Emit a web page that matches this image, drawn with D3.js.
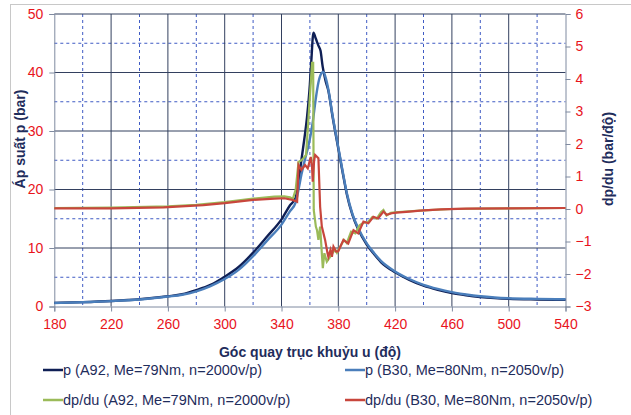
<!DOCTYPE html>
<meta charset="utf-8">
<head>
  <style>
    body { margin: 0; background: #fff; font-family: "Liberation Sans", Arial, sans-serif; }
    .tick-label { fill: #e8141c; font-size: 14px; }
    .title { fill: #1f2d5c; font-size: 14px; font-weight: bold; }
    .legend text { fill: #1f2d5c; font-size: 14.5px; }
  </style>
</head>
<body>
  <div class="chart"></div>
  <script src="https://d3js.org/d3.v7.min.js"></script>
  <script>

    // x tick labels (crank angle, deg)
    var xTicks = [180, 220, 260, 300, 340, 380, 420, 460, 500, 540];
    var yLeftTicks = [0, 10, 20, 30, 40, 50];
    var yRightTicks = [-3, -2, -1, 0, 1, 2, 3, 4, 5, 6];

    var seriesNames = [
      "p (A92, Me=79Nm, n=2000v/p)",
      "p (B30, Me=80Nm, n=2050v/p)",
      "dp/du (A92, Me=79Nm, n=2000v/p)",
      "dp/du (B30, Me=80Nm, n=2050v/p)"
    ];

    // pressure, bar  [angle, p]
    var pA92 = [[180,0.62],[200,0.75],[220,0.95],[240,1.25],[260,1.75],[270,2.1],[280,2.8],[290,3.7],
      [300,5.1],[310,6.8],[320,9.2],[330,12.0],[340,14.9],[346,17.3],[350,18.6],[352,21.5],[354,25],
      [356,28.5],[358,32.4],[360,38],[361,42],[362.5,46.8],[364,45.9],[366,44.6],[367.5,43.7],[369,41],
      [371,38.6],[373,36.9],[376,32.4],[380,27.0],[383,23.0],[386,19.2],[390,15.6],[394,13.2],[400,10.6],
      [405,9.0],[410,7.6],[420,5.85],[430,4.55],[440,3.55],[450,2.85],[460,2.3],[470,1.92],[480,1.63],
      [490,1.43],[500,1.3],[520,1.2],[540,1.15]];
    var pB30 = [[180,0.6],[200,0.72],[220,0.92],[240,1.2],[260,1.7],[270,2.0],[280,2.6],[290,3.5],
      [300,4.7],[310,6.3],[320,8.6],[330,11.3],[340,14.0],[346,16.3],[350,17.8],[352,20],[354,22.5],
      [357,25.6],[359,27.5],[362,31.5],[364,35.3],[366,38.3],[368,39.8],[369.5,40.1],[371,39.2],
      [373,37.1],[376,32.6],[380,27.2],[383,23.2],[386,19.4],[390,15.8],[394,13.4],[400,10.8],
      [405,9.2],[410,7.8],[420,6.0],[430,4.7],[440,3.7],[450,3.0],[460,2.45],[470,2.05],[480,1.75],
      [490,1.55],[500,1.42],[520,1.3],[540,1.23]];

    // pressure gradient, bar/deg  [angle, dp/du]
    var dA92 = [[180,0.03],[220,0.04],[260,0.08],[280,0.13],[300,0.21],[320,0.32],[335,0.38],[342,0.39],
      [346,0.36],[348,0.31],[350,0.6],[352,1.45],[354,1.5],[355.4,1.56],[357.3,1.66],[359,2.8],[360.5,3.8],
      [361.5,4.5],[362.3,4.5],[362.7,-0.03],[364.2,-0.54],[365,-0.65],[366,-0.95],[367.2,-0.54],
      [368.4,-1.36],[369.1,-1.82],[370.2,-1.36],[371.9,-1.62],[374.2,-1.47],[376,-1.35],[377.7,-1.26],
      [379,-1.35],[381.3,-1.16],[384,-0.95],[386,-1.05],[389,-0.7],[392,-0.75],[395,-0.5],[398,-0.42],
      [401,-0.4],[404,-0.25],[407,-0.3],[410,-0.1],[411.8,-0.03],[414,-0.2],[417,-0.12],[420,-0.1],
      [440,-0.04],[460,0],[480,0.01],[500,0.02],[540,0.03]];
    var dB30 = [[180,0.02],[220,0.02],[257,0.05],[285,0.12],[300,0.18],[320,0.28],[335,0.32],[342,0.33],
      [347.7,0.28],[349.6,0.25],[351,0.22],[352,1.35],[354,1.2],[356.6,1.35],[358.5,1.25],[360.6,1.6],
      [361.5,1.3],[362,0.84],[363,1.5],[363.7,1.66],[366,1.56],[367.2,0.07],[368.4,-0.54],[370.7,-0.95],
      [372.4,-1.36],[373,-1.47],[374.5,-1.26],[375.5,-1.47],[376.6,-1.16],[378.5,-1.31],[380,-1.3],
      [383.6,-0.95],[387,-1.06],[390.7,-0.65],[394,-0.75],[397.7,-0.39],[401.2,-0.44],[404.7,-0.24],
      [408,-0.29],[411.8,-0.08],[414,-0.18],[417.7,-0.13],[421,-0.11],[430,-0.08],[437.6,-0.05],
      [452,-0.01],[470,0.01],[500,0.02],[540,0.03]];

    var colors = ["#0f1f55", "#4a7ebb", "#9bbb59", "#c8463c"];

    var width = 631, height = 415;
    var plotL = 54.3, plotR = 565.5, plotT = 14, plotB = 306.5;

    var svg = d3.select(".chart").append("svg")
      .attr("width", width)
      .attr("height", height);

    // outer frame
    svg.append("rect")
      .attr("x", 10.5).attr("y", 4.5)
      .attr("width", 640).attr("height", 430)
      .attr("fill", "none")
      .attr("stroke", "#c8c8c8");

    var x = d3.scaleLinear().domain([180, 540]).range([plotL, plotR]);
    var yL = d3.scaleLinear().domain([0, 50]).range([plotB, plotT]);
    var yR = d3.scaleLinear().domain([-3, 6]).range([plotB, plotT]);

    // minor dashed grid
    var grid = svg.append("g");
    grid.selectAll(".vminor")
      .data(d3.range(200, 540, 40))
      .enter().append("line")
      .attr("x1", d => x(d)).attr("x2", d => x(d))
      .attr("y1", plotT).attr("y2", plotB)
      .attr("stroke", "#3f5bc4").attr("stroke-width", 1).attr("stroke-dasharray", "3,3");
    grid.selectAll(".hminor")
      .data(d3.range(5, 50, 10))
      .enter().append("line")
      .attr("x1", plotL).attr("x2", plotR)
      .attr("y1", d => yL(d)).attr("y2", d => yL(d))
      .attr("stroke", "#3f5bc4").attr("stroke-width", 1).attr("stroke-dasharray", "3,3");

    // major solid grid
    grid.selectAll(".vmajor")
      .data(xTicks.slice(1, -1))
      .enter().append("line")
      .attr("x1", d => x(d)).attr("x2", d => x(d))
      .attr("y1", plotT).attr("y2", plotB)
      .attr("stroke", "#33405f").attr("stroke-width", 1);
    grid.selectAll(".hmajor")
      .data(yLeftTicks.slice(1))
      .enter().append("line")
      .attr("x1", plotL).attr("x2", plotR)
      .attr("y1", d => yL(d)).attr("y2", d => yL(d))
      .attr("stroke", "#33405f").attr("stroke-width", 1);

    // axes
    var xAxis = d3.axisBottom(x).tickValues(xTicks).tickSize(5).tickPadding(8);
    var yAxisL = d3.axisLeft(yL).tickValues(yLeftTicks).tickSize(5).tickPadding(6);
    var yAxisR = d3.axisRight(yR).tickValues(yRightTicks).tickSize(5).tickPadding(5);

    function styleAxis(g) {
      g.attr("font-family", null).attr("font-size", null);
      g.select(".domain").attr("stroke", "#7f8aa0");
      g.selectAll(".tick line").attr("stroke", "#7f8aa0");
      g.selectAll(".tick text").attr("class", "tick-label").attr("fill", null);
    }

    svg.append("g").attr("transform", "translate(0," + plotB + ")").call(xAxis).call(styleAxis);
    svg.append("g").attr("transform", "translate(" + plotL + ",0)").call(yAxisL).call(styleAxis);
    svg.append("g").attr("transform", "translate(" + plotR + ",0)").call(yAxisR).call(styleAxis);

    // series
    var lineL = d3.line().x(d => x(d[0])).y(d => yL(d[1])).curve(d3.curveMonotoneX);
    var lineR = d3.line().x(d => x(d[0])).y(d => yR(d[1]));

    svg.append("path").datum(pA92).attr("d", lineL)
      .attr("fill", "none").attr("stroke", colors[0]).attr("stroke-width", 2.4);
    svg.append("path").datum(pB30).attr("d", lineL)
      .attr("fill", "none").attr("stroke", colors[1]).attr("stroke-width", 2.4);
    svg.append("path").datum(dA92).attr("d", lineR)
      .attr("fill", "none").attr("stroke", colors[2]).attr("stroke-width", 2.2);
    svg.append("path").datum(dB30).attr("d", lineR)
      .attr("fill", "none").attr("stroke", colors[3]).attr("stroke-width", 2.2);

    // axis titles
    svg.append("text").attr("class", "title")
      .attr("text-anchor", "middle")
      .attr("x", 310).attr("y", 357)
      .text("Góc quay trục khuỷu u (độ)");
    svg.append("text").attr("class", "title")
      .attr("text-anchor", "middle")
      .attr("transform", "translate(25,139) rotate(-90)")
      .text("Áp suất p (bar)");
    svg.append("text").attr("class", "title")
      .attr("text-anchor", "middle")
      .attr("transform", "translate(613,159) rotate(-90)")
      .text("dp/du (bar/độ)");

    // legend
    var legendPos = [[43, 370], [345, 370], [43, 400], [345, 400]];
    var legend = svg.append("g").attr("class", "legend");
    var items = legend.selectAll("g")
      .data(seriesNames)
      .enter().append("g")
      .attr("transform", (d, i) => "translate(" + legendPos[i][0] + "," + legendPos[i][1] + ")");
    items.append("line")
      .attr("x1", 0).attr("x2", 20).attr("y1", 0).attr("y2", 0)
      .attr("stroke", (d, i) => colors[i]).attr("stroke-width", 2.5);
    items.append("text")
      .attr("x", 20).attr("y", 5)
      .text(d => d);
  </script>
</body>
